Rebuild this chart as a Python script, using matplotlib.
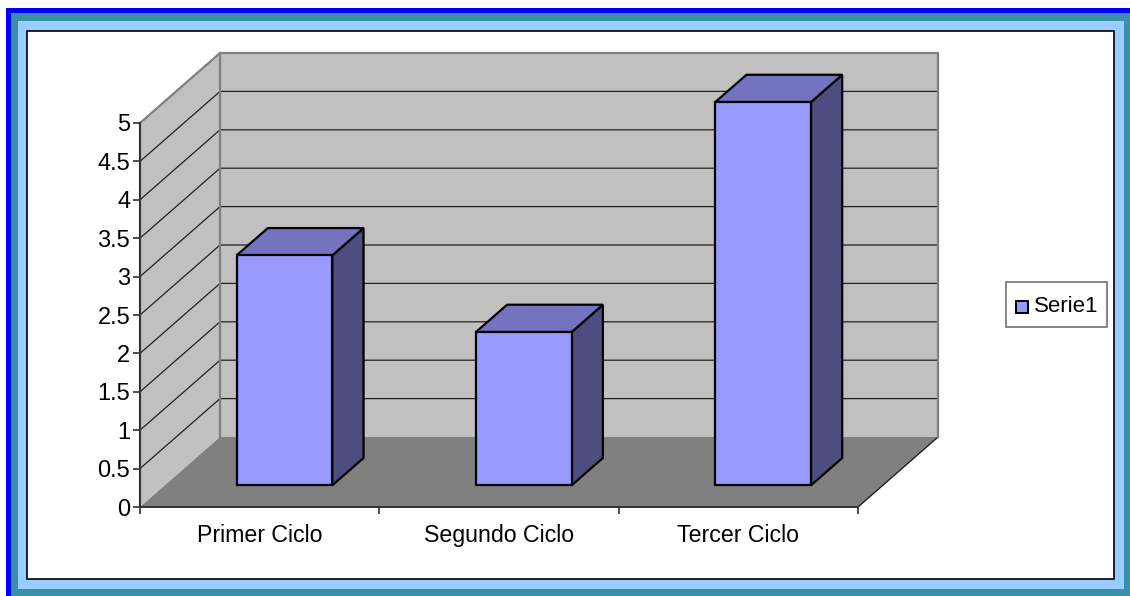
import matplotlib
matplotlib.use('Agg')
import matplotlib.pyplot as plt
from matplotlib.patches import Polygon, Rectangle, Patch
from matplotlib.legend_handler import HandlerPatch

plt.rcParams['font.family'] = ['Liberation Sans', 'DejaVu Sans']

categorias = ['Primer Ciclo', 'Segundo Ciclo', 'Tercer Ciclo']
serie1 = [3, 2, 5]
ticks_y = [0, 0.5, 1, 1.5, 2, 2.5, 3, 3.5, 4, 4.5, 5]
etiquetas_y = ['0', '0.5', '1', '1.5', '2', '2.5', '3', '3.5', '4', '4.5', '5']

# Profundidad de la caja 3D, en unidades de los ejes
DX = 80 / 239.3
DY = 70 / 76.8
ANCHO_BARRA = 0.40
D_FRENTE = 0.31
D_FONDO = 0.70
ESCALA_BARRA = 0.998  # la barra queda un poco mas baja por la perspectiva

GRIS_PARED = '#c0c0c0'
GRIS_PISO = '#808080'
COLOR_FRENTE = '#9999ff'
COLOR_TECHO = '#7373bf'
COLOR_LADO = '#4d4d80'


def proyectar(x, y, d):
    """Pasa un punto (x, y, profundidad) al plano de los ejes."""
    return x + d * DX, y + d * DY


def cara(ax, puntos, color, borde='black', lw=1.6, z=2):
    """Dibuja una cara del 3D a partir de puntos (x, y, d)."""
    ax.add_patch(Polygon([proyectar(*p) for p in puntos], closed=True, facecolor=color,
                         edgecolor=borde, linewidth=lw, joinstyle='miter',
                         clip_on=False, zorder=z))


def cuadrito(legend, orig_handle, xdescent, ydescent, width, height, fontsize):
    """Cuadrito de la leyenda con tamano fijo, centrado en su caja."""
    lado = 8.6
    return Rectangle((-xdescent + 0.7, (height - lado) / 2 - ydescent - 1.8), lado, lado)


def dibujar_marco(fig):
    """Los marcos de colores alrededor del grafico."""
    fondo = fig.add_axes([0, 0, 1, 1], zorder=-1)
    fondo.set_xlim(0, 1130)
    fondo.set_ylim(596, 0)
    fondo.axis('off')
    fondo.add_patch(Rectangle((6, 8), 1124, 588, facecolor='#0000ff', edgecolor='none'))
    fondo.add_patch(Rectangle((11, 13), 1119, 583, facecolor='#3a90a8', edgecolor='none'))
    fondo.add_patch(Rectangle((18, 21), 1106, 568, facecolor='#99ccff', edgecolor='none'))
    fondo.add_patch(Rectangle((26.5, 31), 1087, 547.5, facecolor='white',
                              edgecolor='black', linewidth=1.2))


fig = plt.figure(figsize=(11.3, 5.96), dpi=100, facecolor='white')
dibujar_marco(fig)

ax = fig.add_axes([140 / 1130, (596 - 507) / 596, 718 / 1130, 384 / 596])
ax.patch.set_visible(False)
n = len(categorias)
ax.set_xlim(0, n)
ax.set_ylim(0, ticks_y[-1])

# Paredes y piso
tope = ticks_y[-1]
cara(ax, [(0, 0, 1), (n, 0, 1), (n, tope, 1), (0, tope, 1)], GRIS_PARED, 'none', 0, 1)
cara(ax, [(0, 0, 0), (0, 0, 1), (0, tope, 1), (0, tope, 0)], GRIS_PARED, 'none', 0, 1)
cara(ax, [(0, 0, 0), (n, 0, 0), (n, 0, 1), (0, 0, 1)], GRIS_PISO, 'none', 0, 1.2)
ax.plot(*zip(proyectar(n, 0, 0), proyectar(n, 0, 1)), color='#202020', lw=1.0, clip_on=False, zorder=1.3)

# Lineas de la cuadricula
for t in ticks_y[1:-1]:
    xs, ys = zip(proyectar(0, t, 0), proyectar(0, t, 1), proyectar(n, t, 1))
    ax.plot(xs, ys, color='#202020', lw=0.9, clip_on=False, zorder=1.5, solid_capstyle='butt')

# Borde gris de las paredes, encima de la cuadricula
borde = [(0, 0, 0), (0, tope, 0), (0, tope, 1), (n, tope, 1), (n, 0, 1)]
xs, ys = zip(*[proyectar(*p) for p in borde])
ax.plot(xs, ys, color=GRIS_PISO, lw=1.6, clip_on=False, zorder=1.6)
xs, ys = zip(proyectar(0, tope, 1), proyectar(0, 0, 1))
ax.plot(xs, ys, color=GRIS_PISO, lw=1.6, clip_on=False, zorder=1.6)

# Barras
for i, v in enumerate(serie1):
    x0 = i + 0.5 - ANCHO_BARRA / 2
    x1 = i + 0.5 + ANCHO_BARRA / 2
    h = v * ESCALA_BARRA
    cara(ax, [(x1, 0, D_FRENTE), (x1, 0, D_FONDO), (x1, h, D_FONDO), (x1, h, D_FRENTE)], COLOR_LADO)
    cara(ax, [(x0, h, D_FRENTE), (x1, h, D_FRENTE), (x1, h, D_FONDO), (x0, h, D_FONDO)], COLOR_TECHO)
    cara(ax, [(x0, 0, D_FRENTE), (x1, 0, D_FRENTE), (x1, h, D_FRENTE), (x0, h, D_FRENTE)], COLOR_FRENTE)

# Ejes
for lado in ['top', 'right']:
    ax.spines[lado].set_visible(False)
for lado in ['left', 'bottom']:
    ax.spines[lado].set_color('#303030')
    ax.spines[lado].set_linewidth(1.4)
    ax.spines[lado].set_zorder(3)

ax.set_yticks(ticks_y)
ax.set_yticklabels(etiquetas_y)
ax.set_xticks(range(n + 1))
ax.set_xticklabels([])
ax.set_xticks([i + 0.5 for i in range(n)], minor=True)
ax.set_xticklabels(categorias, minor=True)
ax.tick_params(axis='y', labelsize=17, length=5, width=1.2, color='#303030', pad=2)
ax.tick_params(axis='x', which='major', length=5, width=1.2, color='#303030')
ax.tick_params(axis='x', which='minor', labelsize=16.7, length=0, pad=12)

# Leyenda
leyenda = fig.legend(handles=[Patch(facecolor=COLOR_FRENTE, edgecolor='black', linewidth=1.4, label='Serie1')],
                     handler_map={Patch: HandlerPatch(patch_func=cuadrito)},
                     loc='center', bbox_to_anchor=(1056.5 / 1130, 1 - 304.5 / 596), fontsize=16,
                     fancybox=False, framealpha=1, edgecolor='#707070', handlelength=0.55,
                     handleheight=1.45, handletextpad=0.32, borderpad=0.4, borderaxespad=0)
leyenda.get_frame().set_linewidth(1.2)

plt.savefig('out.png', dpi=100)
plt.close()
